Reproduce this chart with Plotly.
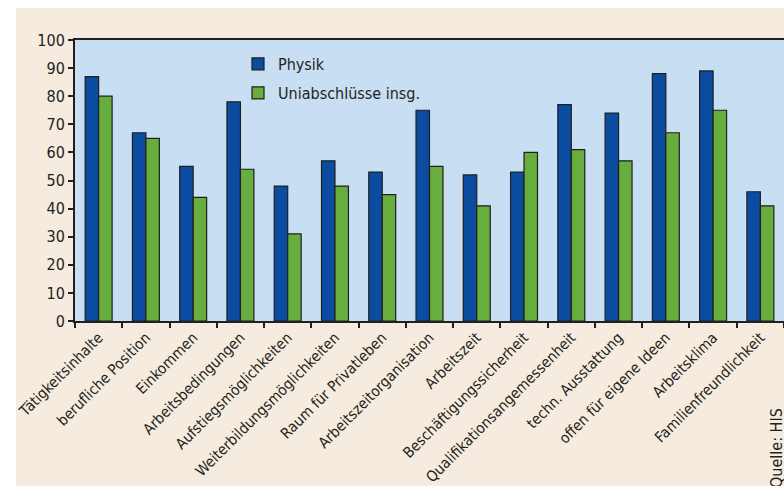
import plotly.graph_objects as go

categories = ["Tätigkeitsinhalte", "berufliche Position", "Einkommen", "Arbeitsbedingungen",
              "Aufstiegsmöglichkeiten", "Weiterbildungsmöglichkeiten", "Raum für Privatleben",
              "Arbeitszeitorganisation", "Arbeitszeit", "Beschäftigungssicherheit",
              "Qualifikationsangemessenheit", "techn. Ausstattung", "offen für eigene Ideen",
              "Arbeitsklima", "Familienfreundlichkeit"]
physik = [87, 67, 55, 78, 48, 57, 53, 75, 52, 53, 77, 74, 88, 89, 46]
uni = [80, 65, 44, 54, 31, 48, 45, 55, 41, 60, 61, 57, 67, 75, 41]
y_ticks = list(range(0, 101, 10))

FONT = "DejaVu Sans Condensed, Liberation Sans Narrow, sans-serif"
TXT = "#231f20"

fig = go.Figure()
fig.add_trace(go.Bar(x=categories, y=physik, name="Physik", legend="legend",
                     marker=dict(color="#0c4ca0", line=dict(color="#1f1f1f", width=1.2))))
fig.add_trace(go.Bar(x=categories, y=uni, name="Uniabschlüsse insg.", legend="legend2",
                     marker=dict(color="#67ae3e", line=dict(color="#1f1f1f", width=1.2))))

W, H = 784, 486
L, R, T, B = 75, 0, 40, 165
pw, ph = W - L - R, H - T - B

def px(xp):
    return (xp - L) / pw

def py(yp):
    return (H - B - yp) / ph

leg_common = dict(xanchor="left", yanchor="top", bgcolor="rgba(0,0,0,0)",
                  font=dict(size=16, color=TXT))

fig.update_layout(
    width=W, height=H,
    margin=dict(l=L, r=R, t=T, b=B, autoexpand=False),
    paper_bgcolor="white",
    plot_bgcolor="rgba(0,0,0,0)",
    barmode="group", bargap=0.43, bargroupgap=0,
    font=dict(family=FONT, size=16, color=TXT),
    showlegend=True,
    legend=dict(x=px(238), y=py(47), **leg_common),
    legend2=dict(x=px(238), y=py(76), **leg_common),
    shapes=[
        dict(type="rect", xref="paper", yref="paper", x0=px(16), x1=px(800), y0=py(500), y1=py(8),
             fillcolor="#f5ecdf", line=dict(width=0), layer="below"),
        dict(type="rect", xref="paper", yref="paper", x0=0, x1=1, y0=0, y1=1,
             fillcolor="#c8dff3", line=dict(width=0), layer="below"),
    ],
    annotations=[
        dict(text="Quelle: HIS", xref="paper", yref="paper", x=px(776), y=py(406),
             xanchor="center", yanchor="top", textangle=-90, showarrow=False,
             font=dict(size=16, color=TXT)),
    ],
)
fig.update_xaxes(
    automargin=False,
    showline=True, linecolor="#231f20", linewidth=2, mirror=True,
    ticks="outside", tickson="boundaries", ticklen=5, tickcolor="#231f20", tickwidth=1.5,
    tickangle=-45, tickfont=dict(size=15, color=TXT), showgrid=False,
)
fig.update_yaxes(
    automargin=False,
    range=[0, 100], tickvals=y_ticks, showline=True, linecolor="#231f20", linewidth=2,
    ticks="outside", ticklen=5, tickcolor="#231f20", tickwidth=1.5,
    tickfont=dict(size=16, color=TXT), showgrid=False, zeroline=False,
)

fig.write_html("out.html")
